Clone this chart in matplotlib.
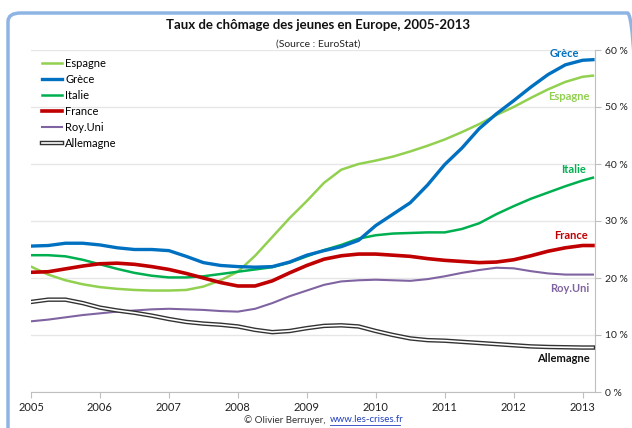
import numpy as np
import matplotlib
matplotlib.use("Agg")
import matplotlib.pyplot as plt
import matplotlib.patheffects as pe
from matplotlib.patches import FancyBboxPatch
from matplotlib.lines import Line2D
from matplotlib.ticker import FuncFormatter

plt.rcParams['font.family'] = ['Lato', 'DejaVu Sans']

# Quarterly readings (last point: early 2013)
years = [2005.0, 2005.25, 2005.5, 2005.75, 2006.0, 2006.25, 2006.5, 2006.75,
         2007.0, 2007.25, 2007.5, 2007.75, 2008.0, 2008.25, 2008.5, 2008.75,
         2009.0, 2009.25, 2009.5, 2009.75, 2010.0, 2010.25, 2010.5, 2010.75,
         2011.0, 2011.25, 2011.5, 2011.75, 2012.0, 2012.25, 2012.5, 2012.75,
         2013.0, 2013.15]

espagne = [22.0, 20.6, 19.6, 18.9, 18.4, 18.1, 17.9, 17.8,
           17.8, 17.9, 18.5, 19.6, 21.1, 23.9, 27.2, 30.5,
           33.5, 36.7, 39.0, 40.0, 40.6, 41.3, 42.2, 43.2,
           44.3, 45.6, 47.0, 48.6, 50.0, 51.6, 53.1, 54.4,
           55.3, 55.5]
grece = [25.6, 25.7, 26.1, 26.1, 25.8, 25.3, 25.0, 25.0,
         24.8, 23.8, 22.7, 22.2, 22.0, 21.9, 22.0, 22.8,
         24.0, 24.8, 25.5, 26.6, 29.2, 31.2, 33.2, 36.3,
         39.9, 42.8, 46.2, 48.8, 51.1, 53.5, 55.7, 57.4,
         58.2, 58.3]
italie = [24.0, 24.0, 23.8, 23.2, 22.4, 21.6, 20.9, 20.4,
          20.1, 20.1, 20.3, 20.7, 21.1, 21.5, 21.9, 22.7,
          23.8, 24.9, 25.8, 26.9, 27.5, 27.8, 27.9, 28.0,
          28.0, 28.6, 29.6, 31.2, 32.6, 33.9, 35.0, 36.1,
          37.1, 37.6]
france = [21.0, 21.1, 21.6, 22.1, 22.5, 22.6, 22.4, 22.0,
          21.5, 20.8, 20.0, 19.2, 18.6, 18.6, 19.5, 20.9,
          22.2, 23.3, 23.9, 24.2, 24.2, 24.0, 23.8, 23.4,
          23.1, 22.9, 22.7, 22.8, 23.2, 23.9, 24.7, 25.3,
          25.7, 25.7]
royuni = [12.4, 12.7, 13.1, 13.5, 13.8, 14.1, 14.3, 14.5,
          14.6, 14.5, 14.4, 14.2, 14.1, 14.6, 15.6, 16.8,
          17.8, 18.8, 19.4, 19.6, 19.7, 19.6, 19.5, 19.8,
          20.3, 20.9, 21.4, 21.8, 21.7, 21.2, 20.8, 20.6,
          20.6, 20.6]
allemagne = [15.8, 16.2, 16.2, 15.6, 14.8, 14.3, 13.9, 13.4,
             12.8, 12.3, 12.0, 11.8, 11.5, 10.9, 10.5, 10.7,
             11.2, 11.6, 11.7, 11.5, 10.7, 10.0, 9.4, 9.1,
             9.0, 8.8, 8.6, 8.4, 8.2, 8.0, 7.9, 7.85,
             7.8, 7.8]

fig = plt.figure(figsize=(6.32, 4.28), dpi=100)
ax = fig.add_axes([31 / 632, 36 / 428, 564 / 632, 342 / 428])

# Excel-like window frame
frame = FancyBboxPatch((8 / 632, -0.05), 1.0, 0.05 + 415 / 428,
                       boxstyle="round,pad=0,rounding_size=0.02",
                       transform=fig.transFigure, facecolor='none',
                       edgecolor='#8EB4E3', linewidth=2.5, clip_on=False)
fig.patches.append(frame)

c_esp, c_gre, c_ita = '#92D050', '#0070C0', '#00B050'
c_fra, c_ru = '#C00000', '#8064A2'

ax.plot(years, espagne, color=c_esp, lw=1.8, label='Espagne', zorder=3)
ax.plot(years, grece, color=c_gre, lw=2.4, label='Grèce', zorder=4)
ax.plot(years, italie, color=c_ita, lw=1.8, label='Italie', zorder=3)
ax.plot(years, france, color=c_fra, lw=2.6, label='France', zorder=3)
ax.plot(years, royuni, color=c_ru, lw=1.5, label='Roy.Uni', zorder=3)
ax.plot(years, allemagne, color='white', lw=1.2, label='Allemagne', zorder=3,
        path_effects=[pe.Stroke(linewidth=3.2, foreground='#333333'), pe.Normal()])

ax.set_xlim(2005, 2013.18)
ax.set_ylim(0, 60)
ax.set_xticks(range(2005, 2014))
ax.set_xticklabels([str(y) for y in range(2005, 2014)])
ax.set_yticks(range(0, 61, 10))
ax.yaxis.set_major_formatter(FuncFormatter(lambda v, p: f"{int(v)} %"))
ax.yaxis.tick_right()
ax.grid(axis='y', color='#E6E6E6', lw=1)
ax.set_axisbelow(True)
for s in ['left', 'top']:
    ax.spines[s].set_visible(False)
for s in ['right', 'bottom']:
    ax.spines[s].set_color('#BFBFBF')
ax.tick_params(axis='both', colors='#BFBFBF', labelcolor='#222222',
               labelsize=8, length=4)
ax.tick_params(axis='y', pad=3, labelsize=7.5)

# labels at the end of lines
lab = dict(fontsize=8, fontweight='bold', ha='right', va='center')
ax.text(2012.95, 59.4, 'Grèce', color=c_gre, **lab)
ax.text(2013.1, 51.8, 'Espagne', color=c_esp, **lab)
ax.text(2013.05, 39.0, 'Italie', color=c_ita, **lab)
ax.text(2013.07, 27.4, 'France', color=c_fra, **lab)
ax.text(2013.1, 18.1, 'Roy.Uni', color=c_ru, **lab)
ax.text(2013.1, 5.8, 'Allemagne', color='#111111', **lab)

ax.legend(loc='upper left', bbox_to_anchor=(34 / 632, 1 - 50 / 428),
          bbox_transform=fig.transFigure, frameon=False, fontsize=8,
          handlelength=1.8, handletextpad=0.3, labelspacing=0.45,
          borderpad=0.2)

fig.text(0.503, 1 - 25 / 428, 'Taux de chômage des jeunes en Europe, 2005-2013',
         ha='center', va='center', fontsize=9.5, fontweight='bold', color='#111111')
fig.text(0.503, 1 - 44 / 428, '(Source : EuroStat)', ha='center', va='center',
         fontsize=7.5, color='#222222')

fig.text(328 / 632, 1 - 420 / 428, '© Olivier Berruyer, ', ha='right',
         va='center', fontsize=7, color='#333333')
fig.text(330 / 632, 1 - 420 / 428, 'www.les-crises.fr', ha='left',
         va='center', fontsize=7, color='#1F3FBF')
fig.add_artist(Line2D([330 / 632, 400 / 632], [1 - 425 / 428, 1 - 425 / 428],
                      transform=fig.transFigure, color='#1F3FBF', lw=0.6))

fig.savefig('out.png', dpi=100)
